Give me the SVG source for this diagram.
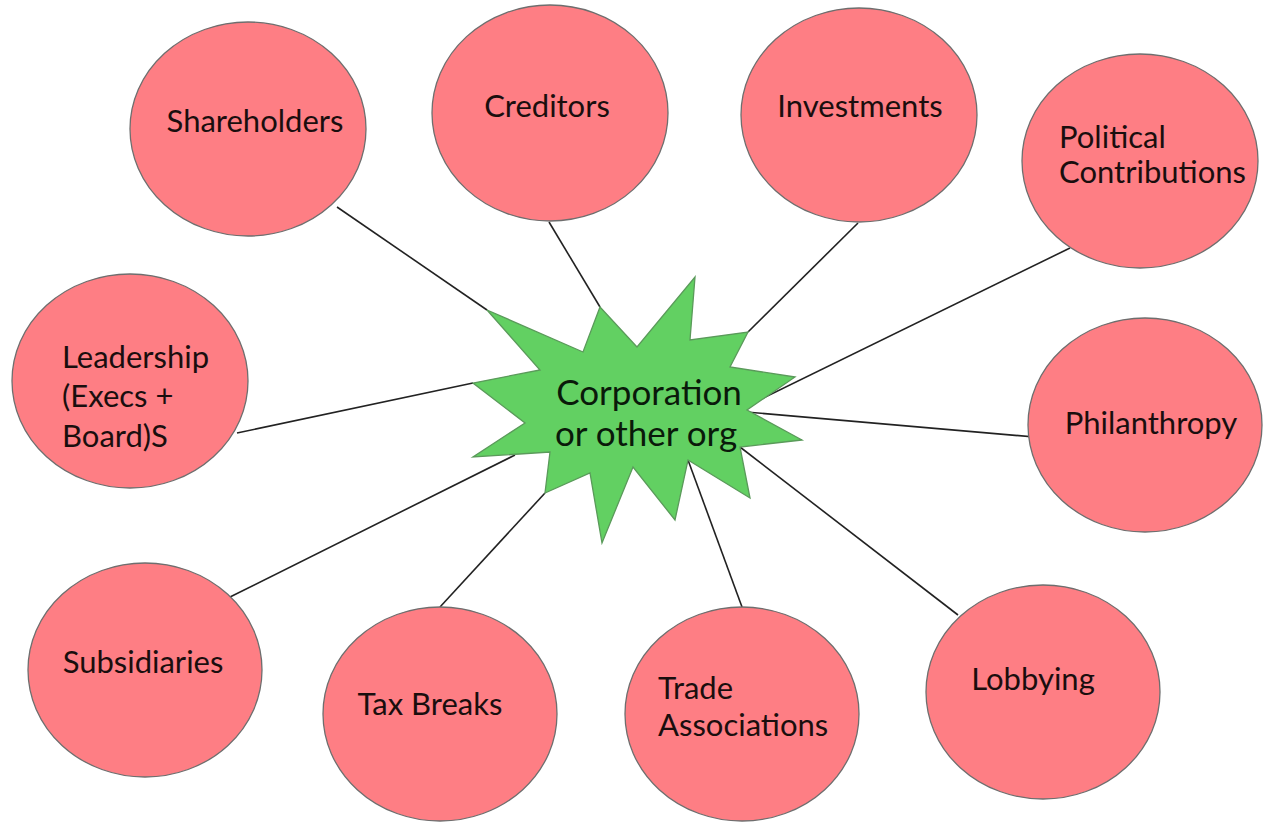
<svg xmlns="http://www.w3.org/2000/svg" width="1263" height="825" viewBox="0 0 1263 825">
<style>
.c{fill:#fe7e84;stroke:#6e6e6e;stroke-width:1.3}
.t{font-family:Lato,"Liberation Sans",sans-serif;font-size:31px;fill:#1a0e0e}
.m{text-anchor:middle}
.ln{stroke:#222;stroke-width:1.6;fill:none}
.star{fill:#62d062;stroke:#5a9a5a;stroke-width:1.3}
.ct{font-family:Lato,"Liberation Sans",sans-serif;font-size:35px;fill:#0a1a0a}
</style>
<rect width="1263" height="825" fill="#fff"/>
<g id="connectors">
<line class="ln" x1="337" y1="207" x2="487" y2="310"/>
<line class="ln" x1="549" y1="222" x2="600" y2="307"/>
<line class="ln" x1="858" y1="223" x2="748" y2="332"/>
<line class="ln" x1="1070" y1="248" x2="749" y2="405"/>
<line class="ln" x1="1046" y1="438" x2="746" y2="412"/>
<line class="ln" x1="958" y1="615" x2="740" y2="447"/>
<line class="ln" x1="742" y1="607" x2="688" y2="460"/>
<line class="ln" x1="440" y1="607" x2="545" y2="493"/>
<line class="ln" x1="230" y1="597" x2="515" y2="455"/>
<line class="ln" x1="237" y1="433" x2="473" y2="383"/>
</g>
<g id="center">
<polygon class="star" points="487,310 583,352 600,307 637,347 695,277 690,340 748,332 730,367 795,377 747,410 802,440 740,447 750,498 688,460 675,520 633,467 602,543 590,473 545,493 550,452 473,457 525,423 473,383 540,370"/>
<text class="ct m" x="649" y="405">Corporation</text>
<text class="ct m" x="646" y="446">or other org</text>
</g>
<g id="shareholders"><ellipse class="c" cx="248" cy="129" rx="118" ry="107"/><text class="t m" x="255" y="132">Shareholders</text></g>
<g id="creditors"><ellipse class="c" cx="550" cy="113" rx="118" ry="108"/><text class="t m" x="547" y="117">Creditors</text></g>
<g id="investments"><ellipse class="c" cx="859" cy="115" rx="118" ry="107"/><text class="t m" x="860" y="117">Investments</text></g>
<g id="political"><ellipse class="c" cx="1140" cy="161" rx="118" ry="107"/><text class="t" x="1059" y="148">Political</text><text class="t" x="1059" y="183">Contributions</text></g>
<g id="leadership"><ellipse class="c" cx="130" cy="381" rx="118" ry="107"/><text class="t" x="62" y="368">Leadership</text><text class="t" x="62" y="407">(Execs +</text><text class="t" x="62" y="447">Board)S</text></g>
<g id="philanthropy"><ellipse class="c" cx="1145" cy="425" rx="117" ry="107"/><text class="t m" x="1151" y="434">Philanthropy</text></g>
<g id="subsidiaries"><ellipse class="c" cx="145" cy="670" rx="117" ry="107"/><text class="t m" x="143" y="673">Subsidiaries</text></g>
<g id="taxbreaks"><ellipse class="c" cx="440" cy="714" rx="117" ry="107"/><text class="t m" x="430" y="715">Tax Breaks</text></g>
<g id="trade"><ellipse class="c" cx="742" cy="714" rx="117" ry="107"/><text class="t" x="658" y="699">Trade</text><text class="t" x="658" y="736">Associations</text></g>
<g id="lobbying"><ellipse class="c" cx="1043" cy="692" rx="117" ry="107"/><text class="t m" x="1033" y="690">Lobbying</text></g>
</svg>
